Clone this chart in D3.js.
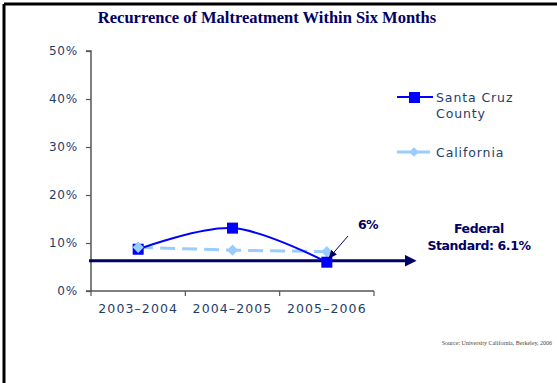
<!DOCTYPE html>
<html>
<head>
<meta charset="utf-8">
<script src="https://cdn.jsdelivr.net/npm/d3@7"></script>
<style>
  html, body { margin: 0; padding: 0; background: #fff; }
  svg { display: block; }
</style>
</head>
<body>
<svg id="chart" width="557" height="383"></svg>
<script>
// Recurrence rates by fiscal year
const categories = ["2003–2004", "2004–2005", "2005–2006"];
const santaCruz = [8.7, 13.1, 6];
const california = [9.1, 8.5, 8.2];
const federalStandard = 6.1;
const yTicks = [0, 10, 20, 30, 40, 50];

const svg = d3.select("#chart");
const navy = "#000066";
const tickColor = "#1f3d6b";
const axisColor = "#555";

// Frame edges
svg.append("line").attr("x1", 4).attr("x2", 557).attr("y1", 4).attr("y2", 4)
  .attr("stroke", "#000").attr("stroke-width", 3);
svg.append("line").attr("x1", 4).attr("x2", 4).attr("y1", 4).attr("y2", 383)
  .attr("stroke", "#000").attr("stroke-width", 3);

// Title
svg.append("text").attr("x", 267).attr("y", 23).attr("text-anchor", "middle")
  .attr("font-family", "'Liberation Serif', serif").attr("font-weight", "bold")
  .attr("font-size", 16.5).attr("fill", navy)
  .text("Recurrence of Maltreatment Within Six Months");

const x = d3.scaleBand().domain(categories).range([91, 374]).padding(0);
const y = d3.scaleLinear().domain([0, 50]).range([291, 51]);
const cx = c => x(c) + x.bandwidth() / 2;

// Y axis
const yAxis = svg.append("g").attr("transform", "translate(91,0)")
  .call(d3.axisLeft(y).tickValues(yTicks).tickSize(5).tickPadding(8).tickFormat(d => d + "%"));
yAxis.select(".domain").attr("stroke", axisColor).attr("stroke-width", 1.5).attr("d", "M-5,51H0V291H-5");
yAxis.selectAll(".tick line").attr("stroke", axisColor).attr("stroke-width", 1.2);
yAxis.selectAll(".tick text").attr("fill", tickColor)
  .attr("font-family", "'DejaVu Sans', sans-serif").attr("font-size", 12).attr("letter-spacing", 0.8);

// X axis: labels centred in bands, ticks on band boundaries
const xAxis = svg.append("g").attr("transform", "translate(0,291)")
  .call(d3.axisBottom(x).tickSize(0).tickPadding(13));
xAxis.select(".domain").attr("stroke", axisColor).attr("stroke-width", 1.5).attr("d", "M91,0H374");
xAxis.selectAll(".tick text").attr("fill", tickColor)
  .attr("font-family", "'DejaVu Sans', sans-serif").attr("font-size", 12.5).attr("letter-spacing", 1.1);
const boundaries = categories.map(c => x(c)).concat([x.range()[1]]);
xAxis.selectAll(".bnd").data(boundaries).join("line").attr("class", "bnd")
  .attr("x1", d => d).attr("x2", d => d).attr("y1", 0).attr("y2", 5)
  .attr("stroke", axisColor).attr("stroke-width", 1.2);

// Federal standard reference line with arrow
const defs = svg.append("defs");
defs.append("marker").attr("id", "fedArrow").attr("viewBox", "0 0 10 10")
  .attr("refX", 2).attr("refY", 5).attr("markerWidth", 4).attr("markerHeight", 4)
  .attr("markerUnits", "strokeWidth").attr("orient", "auto")
  .append("path").attr("d", "M0,0L10,5L0,10z").attr("fill", navy);
defs.append("marker").attr("id", "thinArrow").attr("viewBox", "0 0 10 10")
  .attr("refX", 9).attr("refY", 5).attr("markerWidth", 9).attr("markerHeight", 9)
  .attr("markerUnits", "userSpaceOnUse").attr("orient", "auto")
  .append("path").attr("d", "M0,1L10,5L0,9z").attr("fill", navy);

svg.append("line").attr("x1", 89).attr("x2", 407)
  .attr("y1", y(federalStandard) - 1).attr("y2", y(federalStandard) - 1)
  .attr("stroke", navy).attr("stroke-width", 3).attr("marker-end", "url(#fedArrow)");

// California series (dashed, diamonds)
const line = d3.line().x((d, i) => cx(categories[i])).y(d => y(d));
svg.append("path").datum(california)
  .attr("d", line.curve(d3.curveLinear))
  .attr("fill", "none").attr("stroke", "#99ccff").attr("stroke-width", 3)
  .attr("stroke-dasharray", "15,7");
svg.selectAll(".ca").data(california).join("path").attr("class", "ca")
  .attr("d", d3.symbol(d3.symbolDiamond2, 80))
  .attr("transform", (d, i) => `translate(${cx(categories[i])},${y(d)})`)
  .attr("fill", "#99ccff");

// Santa Cruz series (smoothed, squares)
svg.append("path").datum(santaCruz)
  .attr("d", d3.line().x((d, i) => cx(categories[i])).y(d => y(d)).curve(d3.curveCatmullRom.alpha(0.5)))
  .attr("fill", "none").attr("stroke", "#0000ff").attr("stroke-width", 2);
svg.selectAll(".sc").data(santaCruz).join("rect").attr("class", "sc")
  .attr("x", (d, i) => cx(categories[i]) - 5.5).attr("y", d => y(d) - 5.5)
  .attr("width", 11).attr("height", 11).attr("fill", "#0000ff");

// Redraw the first California diamond above the square
svg.append("path").attr("d", d3.symbol(d3.symbolDiamond2, 80)())
  .attr("transform", `translate(${cx(categories[0])},${y(california[0])})`)
  .attr("fill", "#99ccff");

// Callout for latest Santa Cruz value
const lastIdx = santaCruz.length - 1;
svg.append("line").attr("x1", 348).attr("y1", 236)
  .attr("x2", cx(categories[lastIdx]) + 2).attr("y2", y(santaCruz[lastIdx]) - 4)
  .attr("stroke", navy).attr("stroke-width", 1).attr("marker-end", "url(#thinArrow)");
svg.append("text").attr("x", 368).attr("y", 229).attr("text-anchor", "middle")
  .attr("font-family", "'DejaVu Sans', sans-serif").attr("font-weight", "bold")
  .attr("font-size", 12.5).attr("fill", navy).attr("letter-spacing", -0.5)
  .text(santaCruz[lastIdx] + "%");

// Federal standard label
const fed = svg.append("text").attr("text-anchor", "middle")
  .attr("font-family", "'DejaVu Sans', sans-serif").attr("font-weight", "bold")
  .attr("font-size", 12.5).attr("fill", navy).attr("letter-spacing", -0.4);
fed.append("tspan").attr("x", 479).attr("y", 233).text("Federal");
fed.append("tspan").attr("x", 479).attr("y", 250).text("Standard: " + federalStandard + "%");

// Legend
const legend = svg.append("g").attr("font-family", "'DejaVu Sans', sans-serif")
  .attr("font-size", 12.5).attr("fill", tickColor).attr("letter-spacing", 0.9);
legend.append("line").attr("x1", 397).attr("x2", 433).attr("y1", 97).attr("y2", 97)
  .attr("stroke", "#0000ff").attr("stroke-width", 2);
legend.append("rect").attr("x", 409).attr("y", 92).attr("width", 11).attr("height", 11).attr("fill", "#0000ff");
const t1 = legend.append("text");
t1.append("tspan").attr("x", 436).attr("y", 102).text("Santa Cruz");
t1.append("tspan").attr("x", 436).attr("y", 118).text("County");
legend.append("line").attr("x1", 397).attr("x2", 433).attr("y1", 152).attr("y2", 152)
  .attr("stroke", "#99ccff").attr("stroke-width", 3).attr("stroke-dasharray", "14,5");
legend.append("path").attr("d", d3.symbol(d3.symbolDiamond2, 60)())
  .attr("transform", "translate(414,152)").attr("fill", "#99ccff");
legend.append("text").attr("x", 436).attr("y", 157).text("California");

// Source note
svg.append("text").attr("x", 552).attr("y", 345).attr("text-anchor", "end")
  .attr("font-family", "'Liberation Serif', serif").attr("font-size", 6).attr("fill", "#444")
  .text("Source: University California, Berkeley, 2006");
</script>
</body>
</html>
